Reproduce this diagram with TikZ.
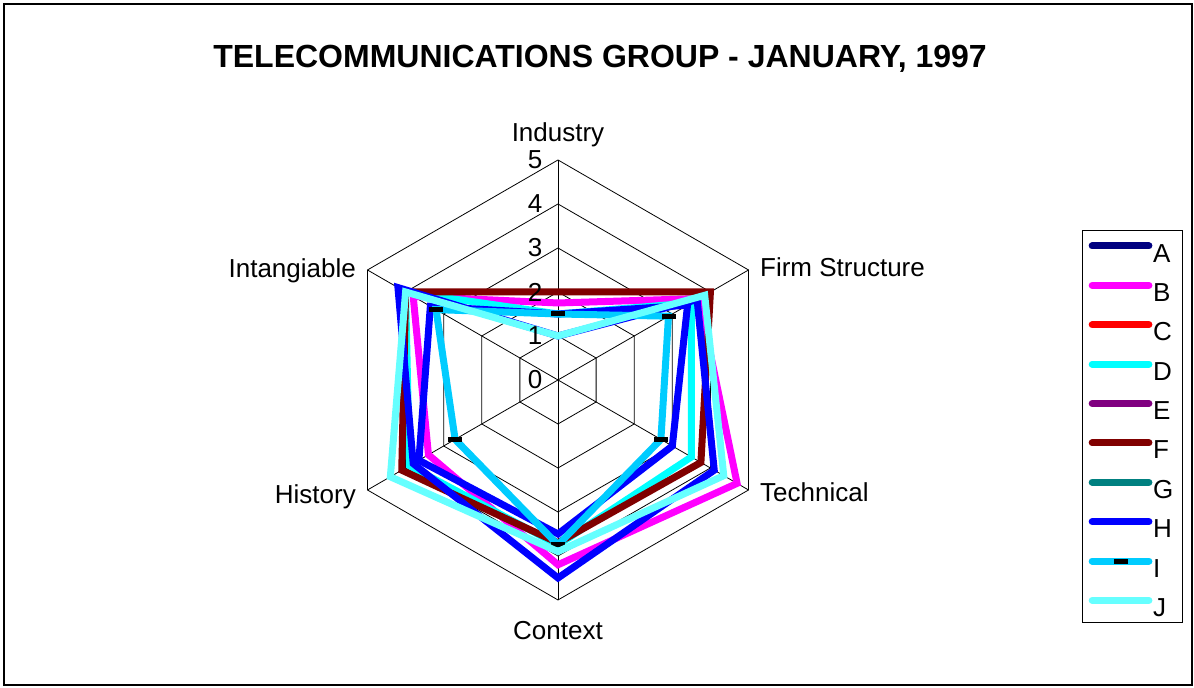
\documentclass[tikz,border=0pt]{standalone}
\usepackage{fontspec}
\setmainfont{Liberation Sans}
\usepackage{xcolor}
\usepackage{tikz}
\usetikzlibrary{positioning, calc}

\definecolor{serA}{HTML}{000080}
\definecolor{serB}{HTML}{FF00FF}
\definecolor{serC}{HTML}{FF0000}
\definecolor{serD}{HTML}{00FFFF}
\definecolor{serE}{HTML}{800080}
\definecolor{serF}{HTML}{800000}
\definecolor{serG}{HTML}{008080}
\definecolor{serH}{HTML}{0000FF}
\definecolor{serI}{HTML}{00CCFF}
\definecolor{serJ}{HTML}{66FFFF}

\tikzset{
  gridline/.style={black, line width=0.8pt},
  series/.style={line width=7pt, line join=miter},
  keyline/.style={line width=7pt, line cap=round},
  lbl/.style={font=\fontsize{26}{30}\selectfont, inner sep=0pt},
  charttitle/.style={font=\fontsize{32}{38}\selectfont\bfseries, inner sep=0pt},
  imark/.style={fill=black, inner sep=0pt, minimum width=14pt, minimum height=5pt}
}

\begin{document}
\begin{tikzpicture}[x=44pt, y=44pt]
        \useasboundingbox (-12.682,-7) rectangle (14.4545,8.636);
        \draw[line width=1.5pt] (-12.59,-6.93) rectangle (14.41,8.545);

        \node[charttitle] (title) at (0.955,7.30) {TELECOMMUNICATIONS GROUP - JANUARY, 1997};

        % Hexagon grid
        \foreach \r in {1,...,5}
          \draw[gridline] (90:\r) -- (30:\r) -- (-30:\r) -- (-90:\r) -- (210:\r) -- (150:\r) -- cycle;
        \foreach \a in {90,30,-30,-90,210,150}
          \draw[gridline] (0,0) -- (\a:5);

        % Series: Industry, Firm Structure, Technical, Context, History, Intangiable
        \draw[series, serB] (90:1.75) -- (30:3.7) -- (-30:4.7) -- (-90:4.2) -- (210:3.4) -- (150:3.8) -- cycle;
        \draw[series, serD] (90:1.5) -- (30:3.5) -- (-30:3.5) -- (-90:3.75) -- (210:3.9) -- (150:4.0) -- cycle;
        \draw[series, serF] (90:2.0) -- (30:4.0) -- (-30:3.75) -- (-90:3.7) -- (210:4.1) -- (150:4.0) -- cycle;
        \draw[series, serH] (90:1.0) -- (30:3.65) -- (-30:4.1) -- (-90:4.5) -- (210:3.8) -- (150:4.2) -- cycle;
        \draw[series, serH] (90:1.5) -- (30:3.4) -- (-30:3.0) -- (-90:3.5) -- (210:3.65) -- (150:3.35) -- cycle;
        \draw[series, serI] (90:1.5) -- (30:2.9) -- (-30:2.7) -- (-90:3.75) -- (210:2.7) -- (150:3.2) -- cycle;
        \foreach \a/\v in {90/1.5, 30/2.9, -30/2.7, -90/3.75, 210/2.7, 150/3.2}
          \node[imark] at (\a:\v) {};
        \draw[series, serJ] (90:1.0) -- (30:3.85) -- (-30:4.35) -- (-90:3.9) -- (210:4.4) -- (150:4.0) -- cycle;

        % Scale numbers
        \foreach \v in {0,...,5}
          \node[lbl] (num\v) at (-0.52,\v) {\v};

        % Axis labels
        \node[lbl, anchor=base] (industry) at (0,5.43) {Industry};
        \node[lbl, anchor=base west] (firm) at (4.59,2.36) {Firm Structure};
        \node[lbl, anchor=base west] (technical) at (4.59,-2.77) {Technical};
        \node[lbl, anchor=base] (context) at (0,-5.89) {Context};
        \node[lbl, anchor=base east] (history) at (-4.59,-2.80) {History};
        \node[lbl, anchor=base east] (intang) at (-4.59,2.34) {Intangiable};

        % Legend
        \draw[line width=1pt] (11.93,3.386) rectangle (14.2,-5.52);
        \foreach \k/\s in {0/A,1/B,2/C,3/D,4/E,5/F,6/G,7/H,8/I,9/J} {
          \draw[keyline, ser\s] (12.14,{3.045-0.895*\k}) -- (13.43,{3.045-0.895*\k});
          \node[lbl, anchor=base west] (key\s) at (13.52,{2.68-0.895*\k}) {\s};
        }
        \node[imark] at (12.785,{3.045-0.895*8}) {};

\end{tikzpicture}
\end{document}
